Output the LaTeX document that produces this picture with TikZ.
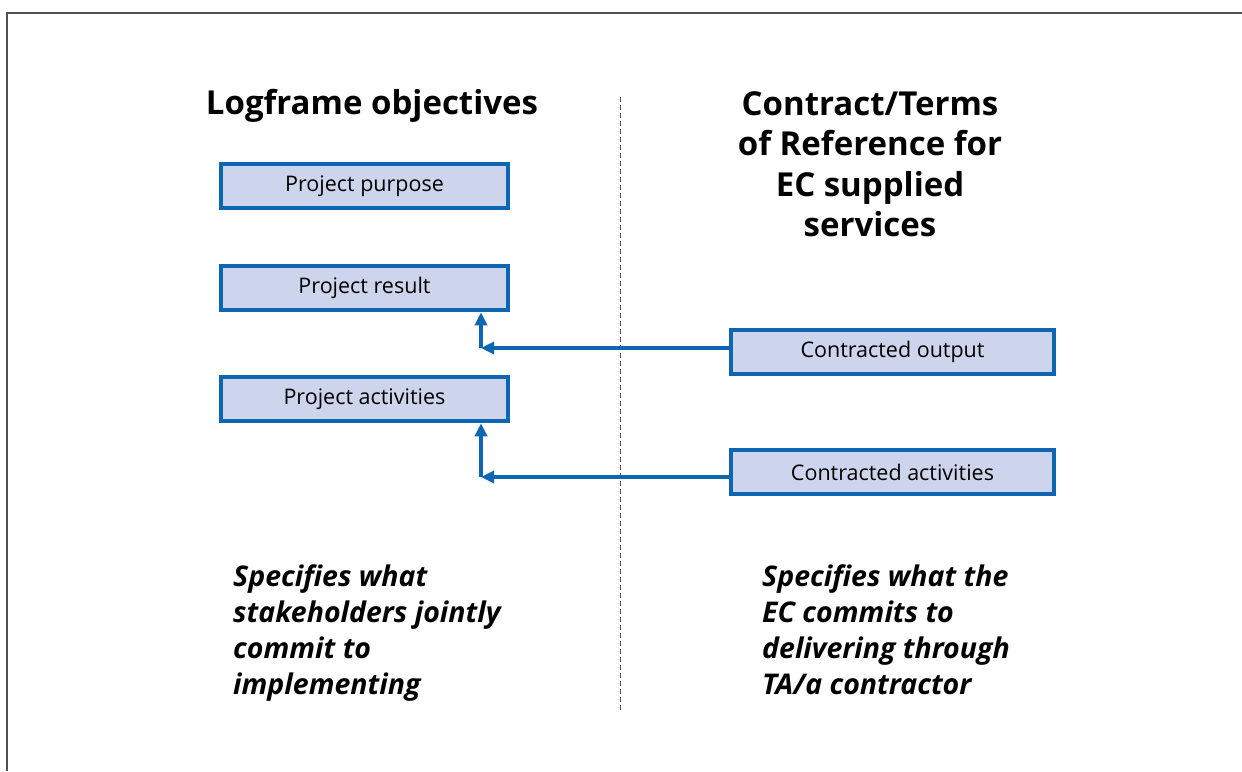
\documentclass[tikz,border=0pt]{standalone}
\usepackage{fontspec}
\setmainfont{Open Sans}
\usetikzlibrary{arrows.meta}
\definecolor{boxblue}{RGB}{14,102,178}
\definecolor{boxfill}{RGB}{205,213,236}
\definecolor{frame}{RGB}{80,80,80}
\tikzset{
  x=1pt, y=-1pt,
  lbox/.style={draw=boxblue, line width=4.5pt, fill=boxfill, minimum width=287pt, minimum height=44pt, inner sep=0pt, font=\fontsize{21.5}{24}\selectfont},
  rbox/.style={lbox, minimum width=323pt},
  conn/.style={draw=boxblue, line width=3.5pt, -{Triangle[length=13pt,width=12pt]}},
  title/.style={font=\bfseries\fontsize{33}{40.5}\selectfont, align=center, inner sep=0pt},
  note/.style={font=\bfseries\itshape\fontsize{28.5}{36.3}\selectfont, align=left, inner sep=0pt, anchor=north west},
}
\begin{document}
\begin{tikzpicture}
\useasboundingbox (0,0) rectangle (1242,771);
\draw[frame, line width=1.6pt] (7,771) -- (7,13) -- (1242,13);
\draw[frame, line width=0.8pt, dash pattern=on 5pt off 3pt] (620,97) -- (620,710);

\node[title] (tl) at (372,106) {Logframe objectives};
\node[title, anchor=north] (tr) at (870,91) {Contract/Terms\\of Reference for\\EC supplied\\services};

\node[lbox] (pp) at (364.5,186) {Project purpose};
\node[lbox] (pr) at (364.5,288) {Project result};
\node[lbox] (pa) at (364.5,399) {Project activities};
\node[rbox] (co) at (892.5,352) {Contracted output};
\node[rbox] (ca) at (892.5,472) {Contracted activities};

\coordinate (c1) at (481,348);
\coordinate (c2) at (481,477);
\draw[conn] (co.west |- c1) -- (c1);
\draw[conn] (c1) -- (c1 |- pr.south);
\draw[conn] (ca.west |- c2) -- (c2);
\draw[conn] (c2) -- (c2 |- pa.south);

\node[note] (nl) at (233,564) {Specifies what\\stakeholders jointly\\commit to\\implementing};
\node[note] (nr) at (762,564) {Specifies what the\\EC commits to\\delivering through\\TA/a contractor};
\end{tikzpicture}
\end{document}
